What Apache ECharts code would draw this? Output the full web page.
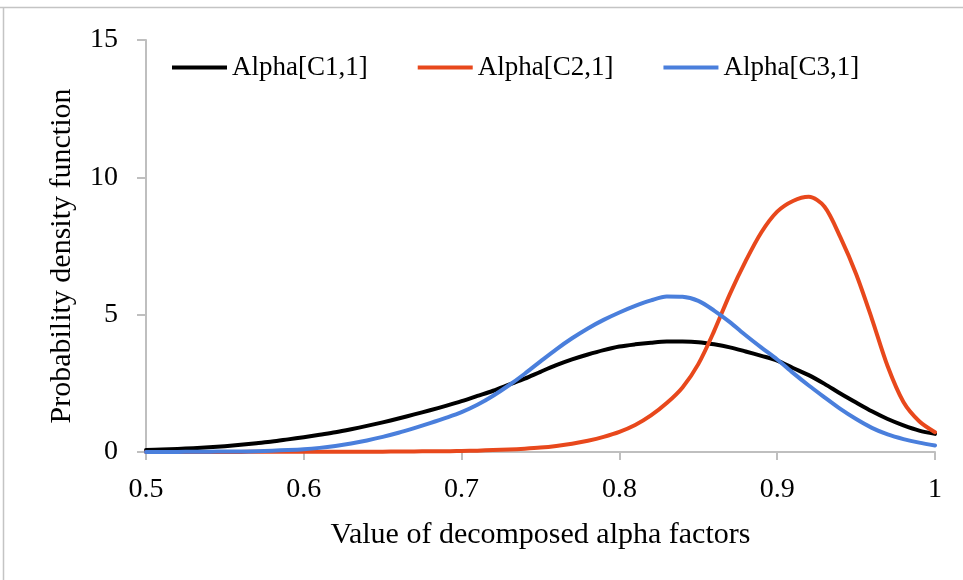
<!DOCTYPE html>
<html>
<head>
<meta charset="utf-8">
<title>Probability density of decomposed alpha factors</title>
<script src="https://cdn.jsdelivr.net/npm/echarts@6/dist/echarts.min.js"></script>
<style>
  html, body { margin: 0; padding: 0; background: #ffffff; }
  #chart { width: 963px; height: 580px; }
</style>
</head>
<body>
<div id="chart"></div>
<script>
// Sample points along the alpha-factor axis (step 0.01)
const xValues = [
  0.50, 0.51, 0.52, 0.53, 0.54, 0.55, 0.56, 0.57, 0.58, 0.59,
  0.60, 0.61, 0.62, 0.63, 0.64, 0.65, 0.66, 0.67, 0.68, 0.69,
  0.70, 0.71, 0.72, 0.73, 0.74, 0.75, 0.76, 0.77, 0.78, 0.79,
  0.80, 0.81, 0.82, 0.83, 0.84, 0.85, 0.86, 0.87, 0.88, 0.89,
  0.90, 0.91, 0.92, 0.93, 0.94, 0.95, 0.96, 0.97, 0.98, 0.99,
  1.00
];

// Density of Alpha[C1,1]
const densityC1 = [
  0.07, 0.09, 0.11, 0.14, 0.17, 0.21, 0.26, 0.32, 0.38, 0.46,
  0.54, 0.63, 0.72, 0.83, 0.95, 1.08, 1.22, 1.37, 1.52, 1.68,
  1.85, 2.04, 2.23, 2.45, 2.67, 2.92, 3.16, 3.37, 3.55, 3.71,
  3.84, 3.92, 3.98, 4.02, 4.02, 4.00, 3.92, 3.81, 3.66, 3.50,
  3.33, 3.06, 2.80, 2.48, 2.13, 1.80, 1.48, 1.20, 0.97, 0.78,
  0.66
];

// Density of Alpha[C2,1]
const densityC2 = [
  0.00, 0.00, 0.00, 0.00, 0.00, 0.00, 0.00, 0.01, 0.01, 0.01,
  0.01, 0.01, 0.01, 0.01, 0.01, 0.01, 0.02, 0.02, 0.03, 0.03,
  0.04, 0.05, 0.07, 0.09, 0.12, 0.16, 0.22, 0.30, 0.41, 0.55,
  0.73, 0.98, 1.33, 1.78, 2.35, 3.20, 4.40, 5.75, 6.95, 8.00,
  8.75, 9.14, 9.29, 8.93, 7.82, 6.48, 4.85, 3.12, 1.82, 1.12,
  0.72
];

// Density of Alpha[C3,1]
const densityC3 = [
  0.00, 0.00, 0.00, 0.01, 0.01, 0.02, 0.02, 0.03, 0.05, 0.07,
  0.10, 0.15, 0.22, 0.31, 0.42, 0.55, 0.70, 0.87, 1.05, 1.24,
  1.45, 1.72, 2.05, 2.43, 2.85, 3.30, 3.74, 4.14, 4.50, 4.81,
  5.08, 5.32, 5.52, 5.66, 5.65, 5.50, 5.15, 4.73, 4.25, 3.80,
  3.37, 2.88, 2.42, 1.99, 1.57, 1.20, 0.88, 0.64, 0.47, 0.34,
  0.24
];

const seriesNames = ['Alpha[C1,1]', 'Alpha[C2,1]', 'Alpha[C3,1]'];
const seriesColors = ['#000000', '#E8481C', '#4A7FDC'];
const seriesData = [densityC1, densityC2, densityC3];

const xTicks = { min: 0.5, max: 1, interval: 0.1 };
const yTicks = { min: 0, max: 15, interval: 5 };

const serif = '"Liberation Serif", "Times New Roman", serif';
const axisGray = '#BFBFBF';

const chart = echarts.init(document.getElementById('chart'), null, { renderer: 'canvas' });

chart.setOption({
  backgroundColor: '#ffffff',
  animation: false,
  color: seriesColors,
  graphic: [
    // outer frame: top and left edges
    { type: 'line', shape: { x1: 0, y1: 7.5, x2: 963, y2: 7.5 }, style: { stroke: '#C4C4C4', lineWidth: 1.5 } },
    { type: 'line', shape: { x1: 3.5, y1: 7.5, x2: 3.5, y2: 580 }, style: { stroke: '#C4C4C4', lineWidth: 1.5 } }
  ],
  legend: {
    show: true,
    left: 167,
    top: 49,
    itemWidth: 55,
    itemHeight: 4,
    itemGap: 50,
    icon: 'rect',
    textStyle: { fontFamily: serif, fontSize: 27, color: '#000000' },
    data: seriesNames
  },
  grid: { left: 146, right: 28, top: 40, bottom: 128, containLabel: false },
  xAxis: {
    type: 'value',
    min: xTicks.min,
    max: xTicks.max,
    interval: xTicks.interval,
    name: 'Value of decomposed alpha factors',
    nameLocation: 'middle',
    nameGap: 68,
    nameTextStyle: { fontFamily: serif, fontSize: 30, color: '#000000' },
    axisLine: { show: true, lineStyle: { color: axisGray, width: 2 } },
    axisTick: { show: true, inside: false, length: 8, lineStyle: { color: axisGray, width: 2 } },
    axisLabel: {
      margin: 24,
      fontFamily: serif,
      fontSize: 28,
      color: '#000000',
      formatter: v => String(Math.round(v * 10) / 10)
    },
    splitLine: { show: false }
  },
  yAxis: {
    type: 'value',
    min: yTicks.min,
    max: yTicks.max,
    interval: yTicks.interval,
    name: 'Probability density function',
    nameLocation: 'middle',
    nameGap: 69,
    nameTextStyle: { fontFamily: serif, fontSize: 30, color: '#000000', padding: [0, 0, 0, -20] },
    axisLine: { show: true, lineStyle: { color: axisGray, width: 2 } },
    axisTick: { show: true, inside: false, length: 9, lineStyle: { color: axisGray, width: 2 } },
    axisLabel: { margin: 28, fontFamily: serif, fontSize: 28, color: '#000000' },
    splitLine: { show: false }
  },
  series: seriesNames.map((n, i) => ({
    name: n,
    type: 'line',
    smooth: 0.3,
    showSymbol: false,
    symbol: 'none',
    clip: true,
    lineStyle: { color: seriesColors[i], width: 4, cap: 'round', join: 'round' },
    itemStyle: { color: seriesColors[i] },
    data: xValues.map((x, k) => [x, seriesData[i][k]])
  }))
});
</script>
</body>
</html>
